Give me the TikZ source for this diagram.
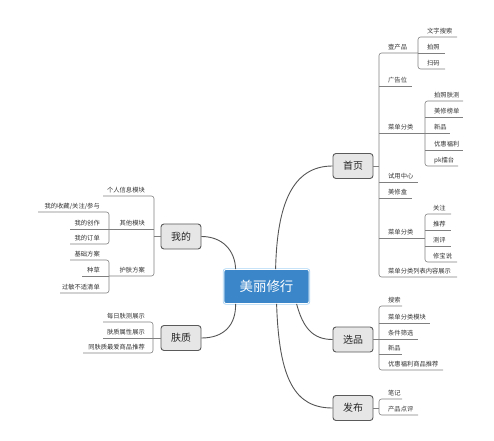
\documentclass[tikz,border=0pt]{standalone}
\usepackage{fontspec}
\newfontfamily\cjk{Noto Sans CJK SC}
\usetikzlibrary{calc}
\definecolor{lnc}{HTML}{808080}
\definecolor{cnc}{HTML}{555555}
\definecolor{topfill}{HTML}{E6E6E6}
\definecolor{topdraw}{HTML}{5A5A5A}
\definecolor{cfill}{HTML}{3A86C9}
\definecolor{cdraw}{HTML}{A8D4F5}
\definecolor{txt}{HTML}{333333}
\tikzset{
  topic/.style={draw=topdraw,fill=topfill,rounded corners=3bp,line width=0.9bp,minimum width=40bp,minimum height=25bp,inner sep=0pt,font=\cjk\fontsize{10}{12}\selectfont,text=black!85},
  central/.style={preaction={draw=cdraw,line width=2.4bp},draw=white,fill=cfill,rounded corners=2bp,line width=0.8bp,minimum width=85bp,minimum height=34bp,inner sep=0pt,text=white,font=\cjk\fontsize{13.5}{15}\selectfont},
  rl/.style={anchor=base west,inner sep=0pt,font=\cjk\fontsize{6.3}{7}\selectfont,text=txt},
  ll/.style={anchor=base east,inner sep=0pt,font=\cjk\fontsize{6.3}{7}\selectfont,text=txt},
  ln/.style={draw=lnc,line width=0.6bp,rounded corners=2.5bp},
  conn/.style={draw=cnc,line width=0.9bp}
}
\begin{document}
\begin{tikzpicture}[x=1bp,y=-1bp]
\useasboundingbox (0,0) rectangle (494,441);
% main nodes
\node[central] (c) at (266.5,286.5) {美丽修行};
\node[topic] (hp) at (353,166) {首页};
\node[topic] (xp) at (353,339.5) {选品};
\node[topic] (fb) at (353,408) {发布};
\node[topic] (wd) at (181,236.5) {我的};
\node[topic] (fz) at (181,338) {肤质};
\coordinate (ct1) at ($(c.north west)+(52,0)$);
\coordinate (ct2) at ($(c.north west)+(12,0)$);
\coordinate (cb1) at ($(c.south west)+(12,0)$);
\coordinate (cb2) at ($(c.south west)+(73,0)$);
\coordinate (cb3) at ($(c.south west)+(53,0)$);
\draw[conn] (ct1) .. controls (277,205) and (292,166) .. (hp.west);
\draw[conn] (ct2) .. controls (235,250) and (222,236.5) .. (wd.east);
\draw[conn] (cb1) .. controls (236,325) and (224,338) .. (fz.east);
\draw[conn] (cb2) .. controls (303,328) and (313,339.5) .. (xp.west);
\draw[conn] (cb3) .. controls (279,380) and (295,408) .. (fb.west);

% ---------- 首页 ----------
\coordinate (hpt) at (379,166);
\draw[ln] (hp.east) -- (hpt);
\draw[ln] (418,53) -- (379,53) -- (379,277) -- (457,277);
\draw[ln] (379,86) -- (412,86);
\draw[ln] (379,133) -- (425,133);
\draw[ln] (379,182) -- (418,182);
\draw[ln] (379,198) -- (412,198);
\draw[ln] (379,238) -- (425,238);
\node[rl] (h1) at (388,49.5) {壹产品};
\node[rl] (h2) at (388,82.5) {广告位};
\node[rl] (h3) at (388,129.5) {菜单分类};
\node[rl] (h4) at (388,178.5) {试用中心};
\node[rl] (h5) at (388,194.5) {美修盒};
\node[rl] (h6) at (388,234.5) {菜单分类};
\node[rl] (h7) at (388,273.5) {菜单分类列表内容展示};
% bracket A
\draw[ln] (457,37) -- (418,37) -- (418,69) -- (445,69);
\draw[ln] (418,53) -- (445,53);
\node[rl] (a1) at (427,33.5) {文字搜索};
\node[rl] (a2) at (427,49.5) {拍照};
\node[rl] (a3) at (427,65.5) {扫码};
% bracket B
\draw[ln] (463,101) -- (425,101) -- (425,166) -- (458,166);
\draw[ln] (425,117) -- (463,117);
\draw[ln] (425,133) -- (450,133);
\draw[ln] (425,150) -- (463,150);
\node[rl] (b1) at (434,97.5) {拍照肤测};
\node[rl] (b2) at (434,113.5) {美修榜单};
\node[rl] (b3) at (434,129.5) {新品};
\node[rl] (b4) at (434,146.5) {优惠福利};
\node[rl] (b5) at (434,162.5) {pk擂台};
% bracket C
\draw[ln] (451,214) -- (425,214) -- (425,262) -- (457,262);
\draw[ln] (425,230) -- (451,230);
\draw[ln] (425,246) -- (451,246);
\node[rl] (d1) at (433,210.5) {关注};
\node[rl] (d2) at (433,226.5) {推荐};
\node[rl] (d3) at (433,242.5) {测评};
\node[rl] (d4) at (433,258.5) {修宝说};

% ---------- 选品 ----------
\draw[ln] (xp.east) -- (379,339.5);
\draw[ln] (402,306) -- (379,306) -- (379,370) -- (443,370);
\draw[ln] (379,323) -- (430,323);
\draw[ln] (379,339) -- (418,339);
\draw[ln] (379,354) -- (402,354);
\node[rl] (x1) at (388,302.5) {搜索};
\node[rl] (x2) at (388,319.5) {菜单分类模块};
\node[rl] (x3) at (388,335.5) {条件筛选};
\node[rl] (x4) at (388,350.5) {新品};
\node[rl] (x5) at (388,366.5) {优惠福利商品推荐};

% ---------- 发布 ----------
\draw[ln] (fb.east) -- (379,408);
\draw[ln] (402,399) -- (379,399) -- (379,415) -- (418,415);
\node[rl] (f1) at (388,395.5) {笔记};
\node[rl] (f2) at (388,411.5) {产品点评};

% ---------- 我的 ----------
\draw[ln] (wd.west) -- (154,236.5);
\draw[ln] (103,196) -- (154,196) -- (154,276) -- (109,276);
\draw[ln] (109,229) -- (154,229);
\node[ll] (w1) at (145,192.5) {个人信息模块};
\node[ll] (w2) at (145,225.5) {其他模块};
\node[ll] (w3) at (145,272.5) {护肤方案};
\draw[ln] (38,212) -- (109,212) -- (109,244) -- (70,244);
\draw[ln] (70,229) -- (109,229);
\node[ll] (w4) at (100,208.5) {我的收藏/关注/参与};
\node[ll] (w5) at (100,225.5) {我的创作};
\node[ll] (w6) at (100,240.5) {我的订单};
\draw[ln] (70,260) -- (109,260) -- (109,293) -- (60,293);
\draw[ln] (82,276) -- (109,276);
\node[ll] (w7) at (100,256.5) {基础方案};
\node[ll] (w8) at (100,272.5) {种草};
\node[ll] (w9) at (100,289.5) {过敏不适清单};

% ---------- 肤质 ----------
\draw[ln] (103,322) -- (153,322) -- (153,353) -- (83,353);
\draw[ln] (103,338) -- (fz.west);
\node[ll] (z1) at (145,318.5) {每日肤测展示};
\node[ll] (z2) at (145,334.5) {肤质属性展示};
\node[ll] (z3) at (145,349.5) {同肤质最爱商品推荐};
\end{tikzpicture}
\end{document}
